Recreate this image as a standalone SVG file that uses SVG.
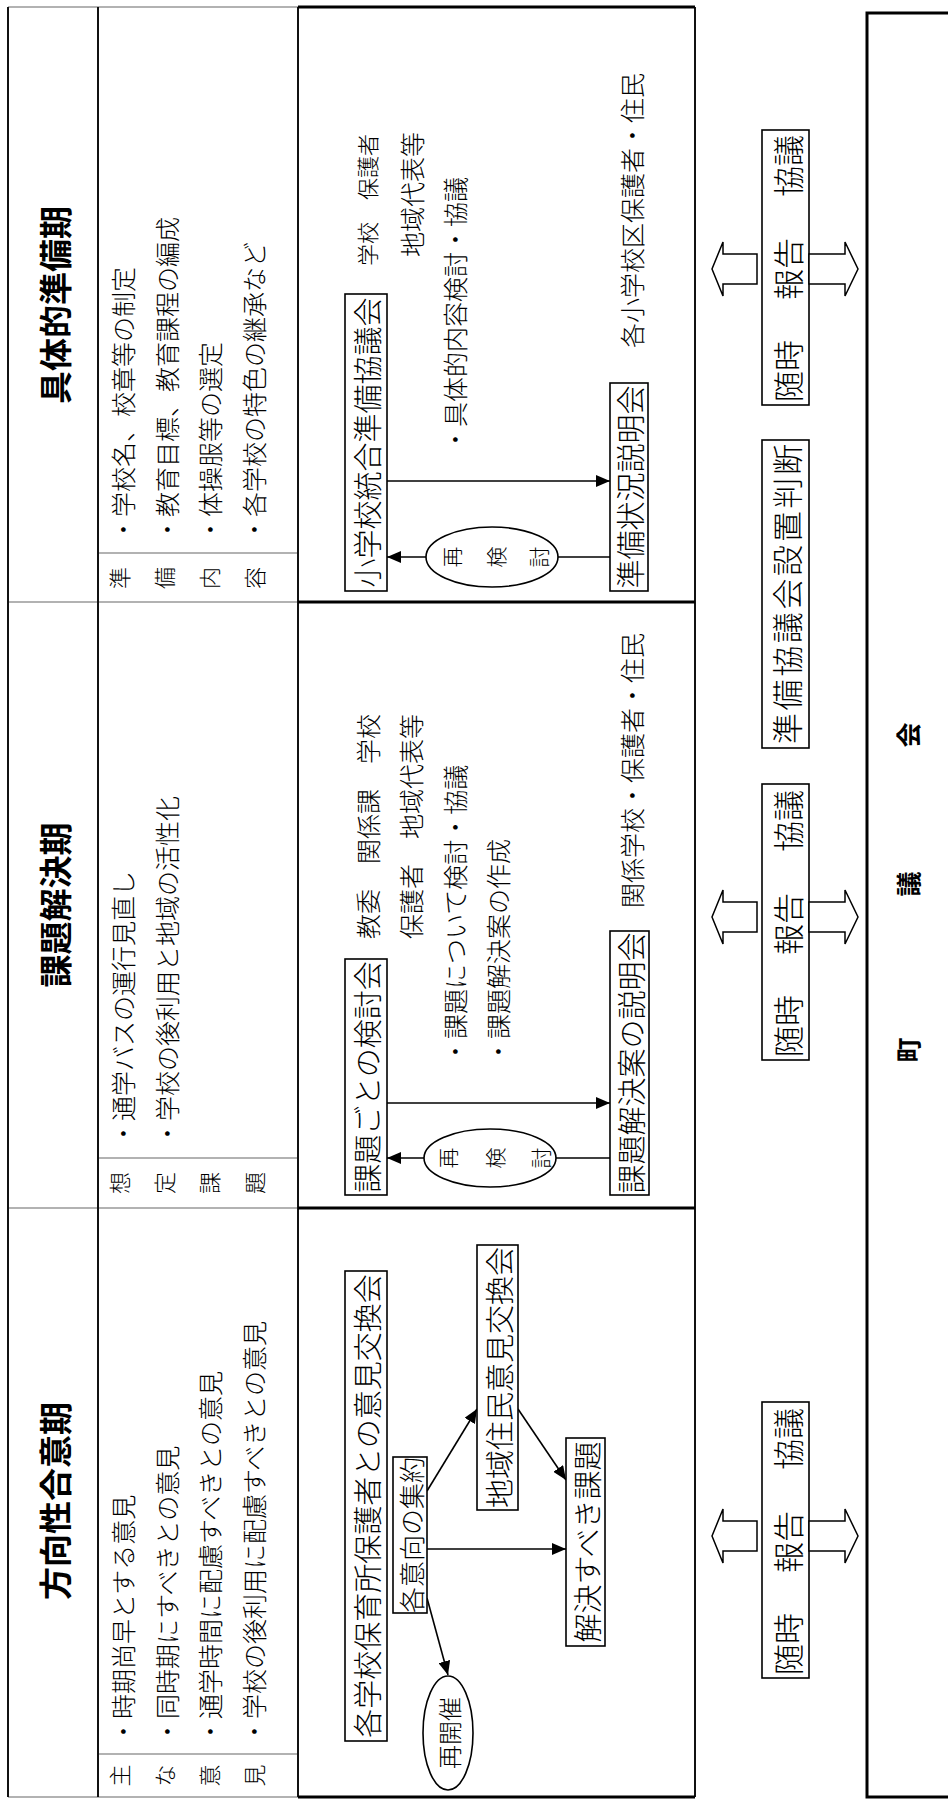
<svg xmlns="http://www.w3.org/2000/svg" width="948" height="1801" viewBox="0 0 948 1801">
<style>
text { font-family: "Noto Sans CJK JP", "Noto Sans CJK SC", sans-serif; fill: #000; }
.t { font-size: 25px; font-weight: 300; dominant-baseline: central; }
.bt { font-size: 29px; font-weight: 300; dominant-baseline: central; text-anchor: middle; }
.ct { font-size: 31px; font-weight: 300; dominant-baseline: central; }
.ctm { font-size: 31px; font-weight: 300; dominant-baseline: central; text-anchor: middle; }
.title { font-size: 33px; font-weight: 700; dominant-baseline: central; text-anchor: middle; }
.lbl { font-size: 22px; font-weight: 300; dominant-baseline: central; text-anchor: middle; }
.et { font-size: 21px; font-weight: 300; dominant-baseline: central; text-anchor: middle; }
.council { font-size: 25px; font-weight: 700; dominant-baseline: central; text-anchor: middle; }
.box { fill: #fff; stroke: #000; stroke-width: 1.6; }
.thin { stroke: #666; stroke-width: 1.2; fill: none; }
.vline { stroke: #111; stroke-width: 2; fill: none; }
.thick { stroke: #000; stroke-width: 3; fill: none; }
.conn { stroke: #000; stroke-width: 1.6; fill: none; }
.hollow { fill: #fff; stroke: #000; stroke-width: 1.5; stroke-linejoin: miter; }
</style>
<defs>
<marker id="ah" markerUnits="userSpaceOnUse" markerWidth="14" markerHeight="12" refX="14" refY="6" orient="auto">
<path d="M0,0 L14,6 L0,12 z" fill="#000"/>
</marker>
</defs>
<rect width="948" height="1801" fill="#fff"/>
<g transform="translate(0,1801) rotate(-90)">
  <!-- table frame -->
  <g id="table">
    <path class="thin" d="M4,8 V298 M1794,8 V298 M593,8 V298 M1199,8 V298 M47,98 V298 M643,98 V298 M1248,98 V298"/>
    <path class="vline" d="M4,8 H1794 M4,98 H1794 M4,298 H1794 M4,695 H1794"/>
    <path class="thick" d="M4,298 V695 M1794,298 V695 M593,298 V695 M1199,298 V695"/>
  </g>
  <!-- titles -->
  <g id="title-1"><text class="title" x="300" y="54">方向性合意期</text></g>
  <g id="title-2"><text class="title" x="896" y="54">課題解決期</text></g>
  <g id="title-3"><text class="title" x="1496" y="54">具体的準備期</text></g>
  <!-- list labels -->
  <g id="label-1">
    <text class="lbl" x="25.5" y="118">主</text><text class="lbl" x="25.5" y="163">な</text><text class="lbl" x="25.5" y="208">意</text><text class="lbl" x="25.5" y="253">見</text>
  </g>
  <g id="label-2">
    <text class="lbl" x="618" y="118">想</text><text class="lbl" x="618" y="163">定</text><text class="lbl" x="618" y="208">課</text><text class="lbl" x="618" y="253">題</text>
  </g>
  <g id="label-3">
    <text class="lbl" x="1223" y="118">準</text><text class="lbl" x="1223" y="163">備</text><text class="lbl" x="1223" y="208">内</text><text class="lbl" x="1223" y="253">容</text>
  </g>
  <!-- list items -->
  <g id="list-1">
    <text class="t" x="57" y="122">・時期尚早とする意見</text>
    <text class="t" x="57" y="166">・同時期にすべきとの意見</text>
    <text class="t" x="57" y="209">・通学時間に配慮すべきとの意見</text>
    <text class="t" x="57" y="253">・学校の後利用に配慮すべきとの意見</text>
  </g>
  <g id="list-2">
    <text class="t" x="655" y="122">・通学バスの運行見直し</text>
    <text class="t" x="655" y="166">・学校の後利用と地域の活性化</text>
  </g>
  <g id="list-3">
    <text class="t" x="1259" y="122">・学校名、校章等の制定</text>
    <text class="t" x="1259" y="166">・教育目標、教育課程の編成</text>
    <text class="t" x="1259" y="209">・体操服等の選定</text>
    <text class="t" x="1259" y="253">・各学校の特色の継承など</text>
  </g>
  <!-- connectors -->
  <g id="connectors">
    <line class="conn" x1="310" y1="427" x2="392" y2="477" marker-end="url(#ah)"/>
    <line class="conn" x1="392" y1="518" x2="321" y2="566" marker-end="url(#ah)"/>
    <line class="conn" x1="252" y1="427" x2="252" y2="566" marker-end="url(#ah)"/>
    <line class="conn" x1="203" y1="427" x2="126" y2="448" marker-end="url(#ah)"/>
    <line class="conn" x1="698" y1="387" x2="698" y2="610" marker-end="url(#ah)"/>
    <line class="conn" x1="643" y1="610" x2="643" y2="556"/>
    <line class="conn" x1="643" y1="424" x2="643" y2="387" marker-end="url(#ah)"/>
    <line class="conn" x1="1320" y1="387" x2="1320" y2="610" marker-end="url(#ah)"/>
    <line class="conn" x1="1244" y1="610" x2="1244" y2="558"/>
    <line class="conn" x1="1244" y1="426" x2="1244" y2="387" marker-end="url(#ah)"/>
  </g>
  <!-- phase 1 flow -->
  <g id="node-exchange">
    <rect class="box" x="60" y="345" width="470" height="42"/>
    <text class="bt" x="295" y="366">各学校保育所保護者との意見交換会</text>
  </g>
  <g id="node-summary">
    <rect class="box" x="188" y="393" width="156" height="34"/>
    <text class="bt" x="266" y="410" style="font-size:26px">各意向の集約</text>
  </g>
  <g id="node-residents">
    <rect class="box" x="291" y="477" width="265" height="41"/>
    <text class="bt" x="423.5" y="497.5">地域住民意見交換会</text>
  </g>
  <g id="node-issues">
    <rect class="box" x="155" y="566" width="208" height="39"/>
    <text class="bt" x="259" y="585.5">解決すべき課題</text>
  </g>
  <g id="node-reopen">
    <ellipse class="box" cx="68" cy="448" rx="57" ry="25"/>
    <text class="bt" x="68" y="448" style="font-size:24px">再開催</text>
  </g>
  <!-- phase 2 flow -->
  <g id="node-study">
    <rect class="box" x="606" y="345" width="236" height="42"/>
    <text class="bt" x="724" y="366">課題ごとの検討会</text>
  </g>
  <g id="node-briefing">
    <rect class="box" x="606" y="610" width="264" height="39"/>
    <text class="bt" x="738" y="629.5">課題解決案の説明会</text>
  </g>
  <g id="node-recheck-2">
    <ellipse class="box" cx="643" cy="490" rx="29" ry="66"/>
    <text class="et" x="643" y="447">再</text><text class="et" x="643" y="494">検</text><text class="et" x="643" y="540">討</text>
  </g>
  <g id="notes-2">
    <text class="t" x="862" y="367">教委　関係課　学校</text>
    <text class="t" x="862" y="410">保護者　地域代表等</text>
    <text class="t" x="737" y="454">・課題について検討・協議</text>
    <text class="t" x="737" y="497">・課題解決案の作成</text>
    <text class="t" x="893" y="631">関係学校・保護者・住民</text>
  </g>
  <!-- phase 3 flow -->
  <g id="node-council-prep">
    <rect class="box" x="1210" y="345" width="297" height="42"/>
    <text class="bt" x="1358.5" y="366">小学校統合準備協議会</text>
  </g>
  <g id="node-status">
    <rect class="box" x="1210" y="610" width="208" height="38"/>
    <text class="bt" x="1314" y="629">準備状況説明会</text>
  </g>
  <g id="node-recheck-3">
    <ellipse class="box" cx="1244" cy="492" rx="30" ry="66"/>
    <text class="et" x="1244" y="451">再</text><text class="et" x="1244" y="495">検</text><text class="et" x="1244" y="538">討</text>
  </g>
  <g id="notes-3">
    <text class="t" x="1535" y="366" style="font-size:22px">学校　保護者</text>
    <text class="t" x="1544" y="411">地域代表等</text>
    <text class="t" x="1349" y="454">・具体的内容検討・協議</text>
    <text class="t" x="1453" y="631">各小学校区保護者・住民</text>
  </g>
  <!-- council column -->
  <g id="node-report-1">
    <rect class="box" x="123" y="762" width="276" height="47"/>
    <text class="ct" y="785.5"><tspan x="126">随時</tspan>　<tspan x="228">報告</tspan>　<tspan x="331">協議</tspan></text>
    <polygon class="hollow" points="250,757 250,723 238,723 265,712 292,723 280,723 280,757"/>
    <polygon class="hollow" points="250,809 250,845 238,845 265,858 292,845 280,845 280,809"/>
  </g>
  <g id="node-report-2">
    <rect class="box" x="741" y="762" width="276" height="47"/>
    <text class="ct" y="785.5"><tspan x="744">随時</tspan>　<tspan x="846">報告</tspan>　<tspan x="949">協議</tspan></text>
    <polygon class="hollow" points="869,757 869,723 857,723 884,712 911,723 899,723 899,757"/>
    <polygon class="hollow" points="869,809 869,845 857,845 884,858 911,845 899,845 899,809"/>
  </g>
  <g id="node-decision">
    <rect class="box" x="1053" y="762" width="308" height="47"/>
    <text class="ctm" x="1207" y="785.5" textLength="300" lengthAdjust="spacing">準備協議会設置判断</text>
  </g>
  <g id="node-report-3">
    <rect class="box" x="1396" y="762" width="275" height="47"/>
    <text class="ct" y="785.5"><tspan x="1399">随時</tspan>　<tspan x="1501">報告</tspan>　<tspan x="1604">協議</tspan></text>
    <polygon class="hollow" points="1517,757 1517,723 1505,723 1532,712 1559,723 1547,723 1547,757"/>
    <polygon class="hollow" points="1517,809 1517,845 1505,845 1532,858 1559,845 1547,845 1547,809"/>
  </g>
  <g id="node-assembly">
    <rect class="thick" x="4" y="867" width="1784" height="92"/>
    <text class="council" x="751" y="907">町</text>
    <text class="council" x="917" y="907">議</text>
    <text class="council" x="1066" y="907">会</text>
  </g>
</g>
</svg>
